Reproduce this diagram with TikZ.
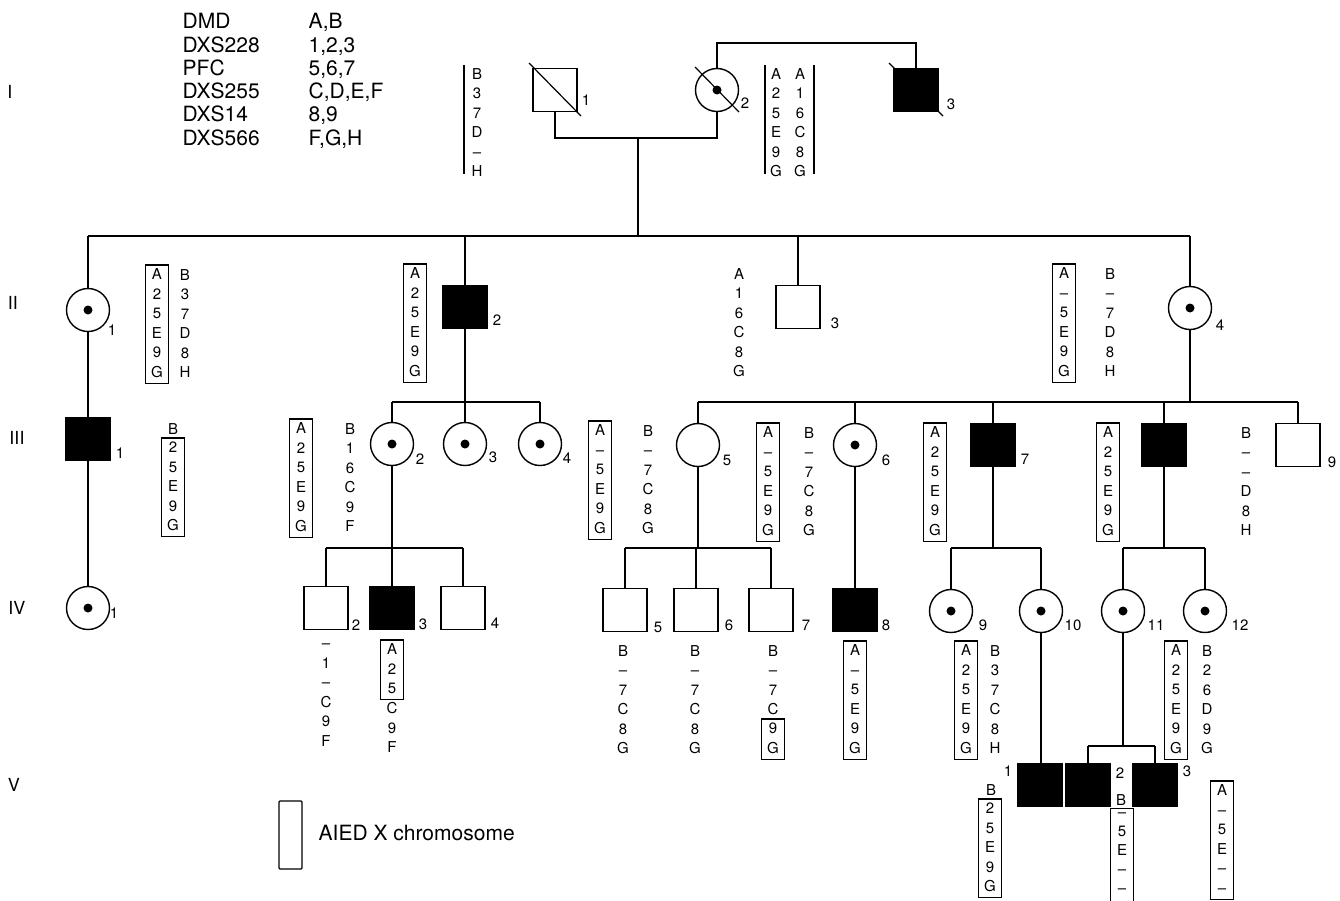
\documentclass[tikz,border=0pt]{standalone}
\usepackage{fontspec}
\setmainfont{TeX Gyre Heros}
\newcommand\gfont{\fontsize{15}{19.5}\selectfont}
\newcommand\gfontb{\fontsize{15}{19}\selectfont}
\newcommand\lfont{\fontsize{15}{18}\selectfont}
\newcommand\gstrut{\rule{0pt}{11pt}}
\newcommand\gdep{\rule[-2pt]{0pt}{2pt}}
\begin{document}
\begin{tikzpicture}[x=1pt,y=-1pt,line width=1.4pt,
  sq/.style={draw,rectangle,minimum width=44pt,minimum height=43pt,inner sep=0pt},
  sqa/.style={sq,fill=black},
  ci/.style={draw,circle,minimum size=43pt,inner sep=0pt},
  cic/.style={ci,path picture={\fill[black] (path picture bounding box.center) circle (4.5pt);}},
  gbase/.style={font=\gfont,align=center,anchor=north,execute at begin node=\gstrut,execute at end node=\gdep},
  gcol/.style={gbase,inner sep=0pt,yshift=5.6pt},
  gcolnd/.style={font=\gfontb,align=center,anchor=north,execute at begin node=\gstrut,inner sep=0pt,yshift=5.6pt},
  gbox/.style={gbase,draw,inner xsep=0pt,inner ysep=4pt,minimum width=23pt,yshift=9.6pt,line width=1.1pt},
  lab/.style={font=\lfont,inner sep=0pt,text height=10.7pt,text depth=0pt},
  rom/.style={font=\fontsize{18}{20}\selectfont,inner sep=0pt,text height=13pt,text depth=0pt},
  leg/.style={font=\fontsize{21}{23}\selectfont,inner sep=0pt,text height=15pt,text depth=0pt,anchor=west},
  tick/.style={line width=1.2pt}]
\useasboundingbox (0,0) rectangle (1340,900);

% generation numerals
\node[rom] (rI) at (10,92) {I};
\node[rom] (rII) at (13,303) {II};
\node[rom] (rIII) at (17,438) {III};
\node[rom] (rIV) at (17,608) {IV};
\node[rom] (rV) at (14,785) {V};

% marker legend
\node[leg] (n1) at (182,21) {DMD};
\node[leg] (n2) at (182,44.5) {DXS228};
\node[leg] (n3) at (182,68) {PFC};
\node[leg] (n4) at (182,91) {DXS255};
\node[leg] (n5) at (182,114) {DXS14};
\node[leg] (n6) at (182,137.5) {DXS566};
\node[leg] (a1) at (308,21) {A,B};
\node[leg] (a2) at (308,44.5) {1,2,3};
\node[leg] (a3) at (308,68) {5,6,7};
\node[leg] (a4) at (308,91) {C,D,E,F};
\node[leg] (a5) at (308,114) {8,9};
\node[leg] (a6) at (308,137.5) {F,G,H};

% ---------- generation I
\node[sq] (i1) at (555,90) {};
\node[cic] (i2) at (717,90) {};
\node[sqa] (i3) at (916,90) {};
\draw[tick] ([shift={(-26,-27)}]i1.center) -- ([shift={(26,26)}]i1.center);
\draw[tick] ([shift={(-22,-23)}]i2.center) -- ([shift={(22,22)}]i2.center);
\draw[tick] ([shift={(-27,-27)}]i3.center) -- ([shift={(27,26)}]i3.center);
\node[lab] (li1) at (586,100) {1};
\node[lab] (li2) at (745,103) {2};
\node[lab] (li3) at (951,104) {3};
\draw[tick] (464,65) -- (464,174);
\node[gcol] (gi1) at (477,73) {B\\3\\7\\D\\–\\H};
\draw[tick] (765,65) -- (765,174);
\draw[tick] (814,65) -- (814,174);
\node[gcol] (gi2a) at (776,73) {A\\2\\5\\E\\9\\G};
\node[gcol] (gi2b) at (800,73) {A\\1\\6\\C\\8\\G};

\coordinate (m1) at (638,138);
\coordinate (t1) at (717,43);
\coordinate (s2) at (638,236);
\draw (i1.south) -- (i1.south |- m1) -- (i2.south |- m1) -- (i2.south);
\draw (i2.north) -- (i2.north |- t1) -- (i3.north |- t1) -- (i3.north);
\draw (m1) -- (s2);

% ---------- generation II
\node[cic] (ii1) at (88,310) {};
\node[sqa] (ii2) at (465,307) {};
\node[sq] (ii3) at (798,307) {};
\node[cic] (ii4) at (1190,308) {};
\draw (ii1.north |- s2) -- (ii4.north |- s2);
\foreach \n in {ii1,ii2,ii3,ii4} \draw (\n.north |- s2) -- (\n.north);
\node[lab] (lii1) at (112,330) {1};
\node[lab] (lii2) at (497,320) {2};
\node[lab] (lii3) at (835,323) {3};
\node[lab] (lii4) at (1220,325) {4};

\node[gbox] (gii1a) at (157,274) {A\\2\\5\\E\\9\\G};
\node[gcol] (gii1b) at (185,274) {B\\3\\7\\D\\8\\H};
\node[gbox] (gii2) at (415,273) {A\\2\\5\\E\\9\\G};
\node[gcol] (gii3) at (739,273) {A\\1\\6\\C\\8\\G};
\node[gbox] (gii4a) at (1064,273) {A\\–\\5\\E\\9\\G};
\node[gcol] (gii4b) at (1110,273) {B\\–\\7\\D\\8\\H};

% ---------- generation III
\node[sqa] (iii1) at (88,439) {};
\node[cic] (iii2) at (392,444) {};
\node[cic] (iii3) at (465,444) {};
\node[cic] (iii4) at (540,444) {};
\node[ci] (iii5) at (698,445) {};
\node[cic] (iii6) at (855,445) {};
\node[sqa] (iii7) at (993,445) {};
\node[sqa] (iii8) at (1164,445) {};
\node[sq] (iii9) at (1298,445) {};
\draw (ii1.south) -- (iii1.north);
\coordinate (s3a) at (465,402);
\draw (ii2.south) -- (ii2.south |- s3a);
\draw (iii2.north |- s3a) -- (iii4.north |- s3a);
\foreach \n in {iii2,iii3,iii4} \draw (\n.north |- s3a) -- (\n.north);
\coordinate (s3b) at (1190,402);
\draw (ii4.south) -- (s3b);
\draw (iii5.north |- s3b) -- (iii9.north |- s3b);
\foreach \n in {iii5,iii6,iii7,iii8,iii9} \draw (\n.north |- s3b) -- (\n.north);
\node[lab] (liii1) at (120,453) {1};
\node[lab] (liii2) at (420,459) {2};
\node[lab] (liii3) at (493,457) {3};
\node[lab] (liii4) at (567,458) {4};
\node[lab] (liii5) at (727,460) {5};
\node[lab] (liii6) at (886,460) {6};
\node[lab] (liii7) at (1025,459) {7};
\node[lab] (liii9) at (1332,462) {9};

\node[gcol] (giii1a) at (173,428) {B};
\node[gbox] (giii1b) at (173,447) {2\\5\\E\\9\\G};
\node[gbox] (giii2a) at (301,428) {A\\2\\5\\E\\9\\G};
\node[gcol] (giii2b) at (350,428) {B\\1\\6\\C\\9\\F};
\node[gbox] (giii5a) at (600,430) {A\\–\\5\\E\\9\\G};
\node[gcol] (giii5b) at (648,430) {B\\–\\7\\C\\8\\G};
\node[gbox] (giii6a) at (768,432) {A\\–\\5\\E\\9\\G};
\node[gcol] (giii6b) at (809,432) {B\\–\\7\\C\\8\\G};
\node[gbox] (giii7) at (935,432) {A\\2\\5\\E\\9\\G};
\node[gbox] (giii8) at (1108,432) {A\\2\\5\\E\\9\\G};
\node[gcol] (giii9) at (1246,432) {B\\–\\–\\D\\8\\H};

% ---------- generation IV
\node[cic] (iv1) at (88,608) {};
\node[sq] (iv2) at (326,608) {};
\node[sqa] (iv3) at (392,608) {};
\node[sq] (iv4) at (463,608) {};
\node[sq] (iv5) at (625,610) {};
\node[sq] (iv6) at (696,610) {};
\node[sq] (iv7) at (771,610) {};
\node[sqa] (iv8) at (855,610) {};
\node[cic] (iv9) at (951,611) {};
\node[cic] (iv10) at (1041,611) {};
\node[cic] (iv11) at (1123,611) {};
\node[cic] (iv12) at (1205,611) {};
\draw (iii1.south) -- (iv1.north);
\coordinate (s4a) at (392,548);
\draw (iii2.south) -- (s4a);
\draw (iv2.north |- s4a) -- (iv4.north |- s4a);
\foreach \n in {iv2,iv3,iv4} \draw (\n.north |- s4a) -- (\n.north);
\coordinate (s4b) at (698,548);
\draw (iii5.south) -- (s4b);
\draw (iv5.north |- s4b) -- (iv7.north |- s4b);
\foreach \n in {iv5,iv6,iv7} \draw (\n.north |- s4b) -- (\n.north);
\draw (iii6.south) -- (iv8.north);
\coordinate (s4c) at (993,548);
\draw (iii7.south) -- (s4c);
\draw (iv9.north |- s4c) -- (iv10.north |- s4c);
\foreach \n in {iv9,iv10} \draw (\n.north |- s4c) -- (\n.north);
\coordinate (s4d) at (1164,548);
\draw (iii8.south) -- (s4d);
\draw (iv11.north |- s4d) -- (iv12.north |- s4d);
\foreach \n in {iv11,iv12} \draw (\n.north |- s4d) -- (\n.north);
\node[lab] (liv1) at (114,613) {1};
\node[lab] (liv2) at (356,625) {2};
\node[lab] (liv3) at (423,624) {3};
\node[lab] (liv4) at (495,623) {4};
\node[lab] (liv5) at (658,627) {5};
\node[lab] (liv6) at (729,625) {6};
\node[lab] (liv7) at (806,625) {7};
\node[lab] (liv8) at (886,625) {8};
\node[lab] (liv9) at (983,625) {9};
\node[lab] (liv10) at (1073,625) {10};
\node[lab] (liv11) at (1156,625) {11};
\node[lab] (liv12) at (1240,625) {12};

\node[gcol] (giv2) at (326,649) {–\\1\\–\\C\\9\\F};
\node[gbox] (giv3a) at (392,649) {A\\2\\5};
\node[gcol] (giv3b) at (392,707.5) {C\\9\\F};
\node[gcol] (giv5) at (623,650) {B\\–\\7\\C\\8\\G};
\node[gcol] (giv6) at (695,650) {B\\–\\7\\C\\8\\G};
\node[gcol] (giv7a) at (773,650) {B\\–\\7\\C};
\node[gbox] (giv7b) at (773,728) {9\\G};
\node[gbox] (giv8) at (855,650) {A\\–\\5\\E\\9\\G};
\node[gbox] (giv9a) at (966,650) {A\\2\\5\\E\\9\\G};
\node[gcol] (giv9b) at (995,650) {B\\3\\7\\C\\8\\H};
\node[gbox] (giv12a) at (1176,650) {A\\2\\5\\E\\9\\G};
\node[gcol] (giv12b) at (1207,650) {B\\2\\6\\D\\9\\G};

% ---------- generation V
\node[sqa,minimum height=42pt] (v1) at (1040,785) {};
\node[sqa,minimum height=42pt] (v2) at (1088,785) {};
\node[sqa,minimum height=42pt] (v3) at (1155,785) {};
\draw (iv10.south) -- (iv10.south |- v1.north);
\coordinate (s5) at (1123,746);
\draw (iv11.south) -- (s5);
\draw (v2.north |- s5) -- (v3.north |- s5);
\foreach \n in {v2,v3} \draw (\n.north |- s5) -- (\n.north);
\node[lab] (lv1) at (1008,771) {1};
\node[lab] (lv2) at (1120,773) {2};
\node[lab] (lv3) at (1187,771) {3};

\node[gcol] (gv1a) at (991,789) {B};
\node[gbox] (gv1b) at (990,808) {2\\5\\E\\9\\G};
\node[lab] (gv2a) at (1121,800) {B};
\node[gcolnd] (gv2b) at (1122,818) {–\\5\\E\\–\\–};
\draw[line width=1.1pt] (1110.5,902) -- (1110.5,808.4) -- (1133.5,808.4) -- (1133.5,902);
\node[gbox] (gv3) at (1222,790) {A\\–\\5\\E\\–\\–};

% bottom legend
\node[draw,line width=1.1pt,minimum width=23pt,minimum height=68pt,inner sep=0pt,rounded corners=1pt] (lbox) at (290.5,835) {};
\node[leg] (ltxt) at (318,833) {AIED X chromosome};
\end{tikzpicture}
\end{document}
